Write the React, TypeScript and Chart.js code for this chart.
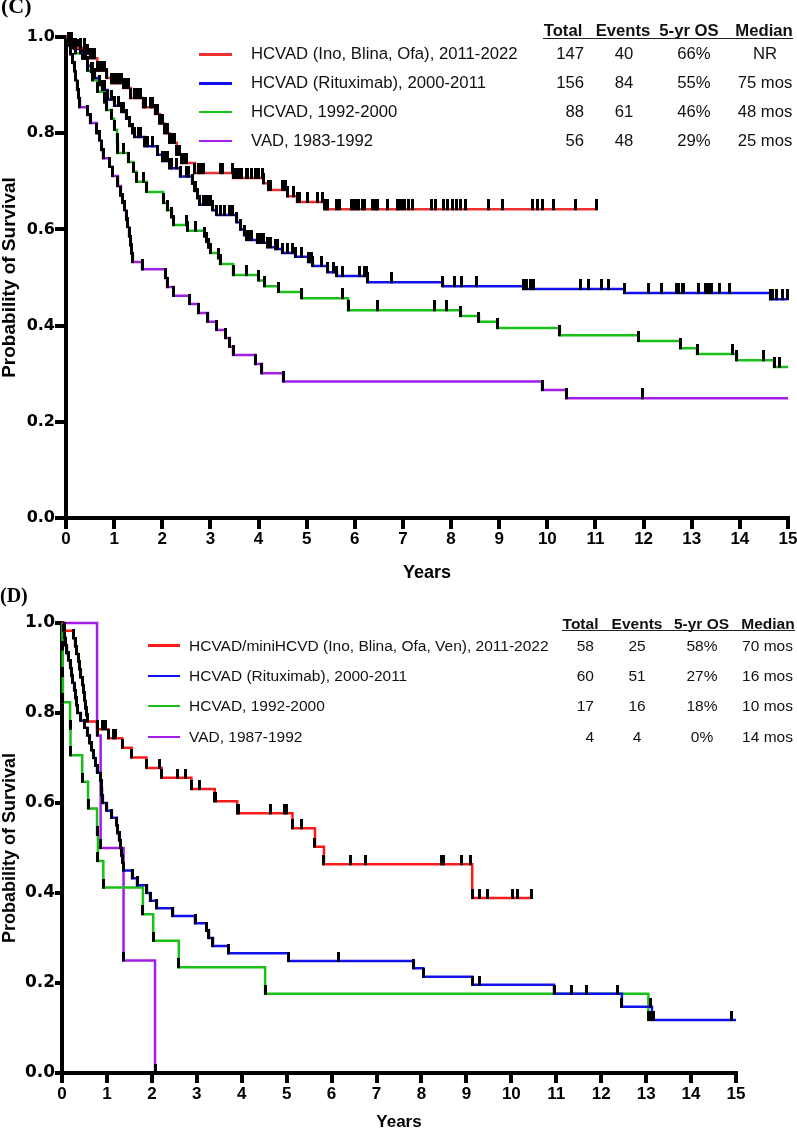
import React, { useEffect, useRef } from "react";
import { Chart, registerables } from "chart.js";
Chart.register(...registerables);

// ---------------- Panel (C) data ----------------
const cLabels = ["HCVAD (Ino, Blina, Ofa), 2011-2022", "HCVAD (Rituximab), 2000-2011", "HCVAD, 1992-2000", "VAD, 1983-1992"];
const cTotals = ["147", "156", "88", "56"];
const cEvents = ["40", "84", "61", "48"];
const cOS = ["66%", "55%", "46%", "29%"];
const cMedian = ["NR", "75 mos", "48 mos", "25 mos"];

const cRedEventT = [0.05, 0.15, 0.45, 0.5, 0.65, 0.85, 0.95, 1.2, 1.35, 1.6, 1.85, 1.95, 2.05, 2.15, 2.3, 2.4, 2.68, 3.47, 4.1, 4.2, 4.6, 4.8, 5.38];
const cRedEventS = [0.99, 0.977, 0.965, 0.956, 0.93, 0.915, 0.904, 0.894, 0.873, 0.854, 0.84, 0.82, 0.8, 0.78, 0.755, 0.738, 0.717, 0.707, 0.696, 0.682, 0.669, 0.657, 0.642];
const cRedCensorT = [0.08, 0.12, 0.2, 0.3, 0.38, 0.55, 0.6, 0.7, 0.75, 0.8, 1.0, 1.05, 1.1, 1.15, 1.25, 1.3, 1.42, 1.48, 1.55, 1.65, 1.75, 1.8, 1.9, 2.0, 2.1, 2.2, 2.25, 2.35, 2.45, 2.5, 2.75, 2.8, 2.85, 3.2, 3.25, 3.45, 3.5, 3.55, 3.58, 3.62, 3.65, 3.75, 3.78,
  3.86, 3.93, 3.99, 4.09, 4.24, 4.49, 4.55, 4.61, 4.72, 4.82, 4.86, 5.01, 5.22, 5.32, 5.42, 5.44, 5.63, 5.69, 5.94, 5.96, 6.0, 6.05, 6.07, 6.15, 6.21, 6.36, 6.42, 6.46, 6.48, 6.67, 6.88, 6.9, 6.98, 7.04, 7.11, 7.19, 7.6, 7.67, 7.85, 7.92, 8.04, 8.12, 8.19, 8.29, 8.77, 9.06, 9.7, 9.79, 9.89, 10.12, 10.58, 11.03];

const cBlueEventT = [0.05, 0.12, 0.18, 0.3, 0.38, 0.45, 0.52, 0.6, 0.7, 0.75, 0.87, 1.0, 1.16, 1.25, 1.32, 1.38, 1.43, 1.64, 1.9, 2.0, 2.16, 2.37, 2.62, 2.68, 2.73, 2.78, 3.05, 3.13, 3.55, 3.62, 3.7, 3.75, 3.97, 4.18, 4.35, 4.49, 4.76, 5.03, 5.13, 5.44, 5.63, 6.27, 7.83, 9.5, 11.6, 14.63];
const cBlueEventS = [0.99, 0.983, 0.975, 0.967, 0.955, 0.94, 0.928, 0.915, 0.9, 0.89, 0.87, 0.857, 0.844, 0.83, 0.815, 0.8, 0.792, 0.773, 0.755, 0.742, 0.727, 0.71, 0.695, 0.68, 0.665, 0.651, 0.64, 0.63, 0.615, 0.6, 0.588, 0.578, 0.572, 0.563, 0.559, 0.551, 0.543, 0.532, 0.524, 0.511, 0.503, 0.49, 0.482, 0.476, 0.468, 0.455];
const cBlueCensorT = [0.25, 0.4, 0.55, 0.8, 0.95, 1.1, 1.2, 1.5, 1.55, 1.7, 1.8, 2.05, 2.1, 2.2, 2.3, 2.5, 2.55, 2.7, 2.85, 2.9, 2.95, 3.0, 3.2, 3.3, 3.4, 3.45, 3.8, 3.85, 4.05, 4.1, 4.25, 4.4, 4.6, 4.7, 4.9, 5.07, 5.11, 5.3, 5.55, 5.75, 6.09, 6.21, 6.25, 6.77, 8.08, 8.22, 8.53, 9.57, 9.64, 9.71, 10.68, 10.85, 11.13, 11.27, 12.11, 12.38, 12.69, 12.73, 12.8, 12.82, 13.15, 13.28, 13.34, 13.38, 13.42, 13.57, 13.78, 14.67, 14.77, 14.88, 14.98];

const cGreenEventT = [0.05, 0.1, 0.2, 0.35, 0.45, 0.55, 0.65, 0.8, 0.85, 0.95, 1.0, 1.06, 1.08, 1.29, 1.4, 1.47, 1.68, 2.02, 2.1, 2.2, 2.23, 2.53, 2.88, 2.92, 2.97, 3.0, 3.16, 3.2, 3.47, 4.0, 4.12, 4.42, 4.9, 5.86, 8.19, 8.58, 8.96, 10.26, 11.9, 12.76, 13.11, 13.94, 14.71];
const cGreenEventS = [0.989, 0.977, 0.966, 0.955, 0.93, 0.91, 0.886, 0.864, 0.848, 0.83, 0.807, 0.78, 0.759, 0.74, 0.72, 0.699, 0.678, 0.655, 0.64, 0.625, 0.609, 0.597, 0.585, 0.574, 0.562, 0.551, 0.54, 0.528, 0.505, 0.494, 0.482, 0.47, 0.457, 0.432, 0.42, 0.408, 0.395, 0.38, 0.368, 0.353, 0.341, 0.328, 0.314];
const cGreenCensorT = [0.3, 1.2, 1.6, 2.5, 2.7, 3.76, 5.75, 6.47, 7.65, 7.9, 13.84, 14.5, 14.83];
const cGreenEndT = 15;

const cPurpleEventT = [0.08, 0.1, 0.14, 0.17, 0.2, 0.23, 0.26, 0.29, 0.44, 0.5, 0.64, 0.7, 0.74, 0.77, 0.91, 0.97, 1.08, 1.14, 1.18, 1.22, 1.25, 1.28, 1.31, 1.34, 1.36, 1.39, 1.58, 2.06, 2.1, 2.23, 2.57, 2.75, 2.95, 3.13, 3.31, 3.4, 3.47, 3.93, 4.07, 4.51, 9.89, 10.4];
const cPurpleEventS = [0.982, 0.964, 0.946, 0.929, 0.91, 0.89, 0.873, 0.854, 0.838, 0.821, 0.8, 0.785, 0.765, 0.748, 0.73, 0.711, 0.69, 0.67, 0.655, 0.64, 0.62, 0.605, 0.585, 0.567, 0.55, 0.532, 0.517, 0.499, 0.48, 0.462, 0.445, 0.426, 0.408, 0.391, 0.374, 0.356, 0.339, 0.32, 0.301, 0.284, 0.266, 0.249];
const cPurpleCensorT = [11.97];
const cPurpleEndT = 15;

// ---------------- Panel (D) data ----------------
const dLabels = ["HCVAD/miniHCVD (Ino, Blina, Ofa, Ven), 2011-2022", "HCVAD (Rituximab), 2000-2011", "HCVAD, 1992-2000", "VAD, 1987-1992"];
const dTotals = ["58", "60", "17", "4"];
const dEvents = ["25", "51", "16", "4"];
const dOS = ["58%", "27%", "18%", "0%"];
const dMedian = ["70 mos", "16 mos", "10 mos", "14 mos"];

const dRedEventT = [0.05, 0.25, 0.29, 0.33, 0.36, 0.39, 0.42, 0.45, 0.48, 0.5, 0.52, 0.54, 0.56, 0.78, 1.03, 1.34, 1.55, 1.88, 2.22, 2.88, 3.4, 3.9, 5.13, 5.63, 5.83, 9.13];
const dRedEventS = [0.983, 0.966, 0.948, 0.931, 0.914, 0.897, 0.879, 0.862, 0.845, 0.828, 0.81, 0.795, 0.781, 0.764, 0.744, 0.723, 0.701, 0.678, 0.656, 0.631, 0.604, 0.577, 0.544, 0.503, 0.464, 0.389];
const dRedCensorT = [0.8, 0.9, 0.97, 1.14, 1.18, 2.18, 2.56, 2.74, 3.07, 3.42, 3.92, 4.63, 4.96, 5.0, 5.34, 6.41, 6.76, 8.45, 8.5, 8.88, 9.1, 9.3, 9.48, 10.02, 10.13, 10.44];

const dBlueEventT = [0.03, 0.06, 0.08, 0.11, 0.14, 0.18, 0.21, 0.24, 0.27, 0.3, 0.32, 0.34, 0.42, 0.5, 0.56, 0.62, 0.66, 0.7, 0.74, 0.78, 0.85, 0.87, 0.89, 0.91, 1.0, 1.11, 1.22, 1.24, 1.27, 1.3, 1.32, 1.35, 1.37, 1.56, 1.67, 1.89, 1.96, 2.11, 2.47, 2.96, 3.22, 3.27, 3.36, 3.7, 5.04, 7.83, 8.04, 9.13, 10.95, 12.46, 13.13];
const dBlueEventS = [0.983, 0.967, 0.95, 0.933, 0.917, 0.9, 0.883, 0.867, 0.85, 0.833, 0.817, 0.8, 0.783, 0.767, 0.75, 0.733, 0.717, 0.7, 0.683, 0.667, 0.65, 0.633, 0.617, 0.6, 0.583, 0.567, 0.55, 0.533, 0.517, 0.5, 0.483, 0.467, 0.45, 0.433, 0.417, 0.4, 0.383, 0.366, 0.349, 0.333, 0.316, 0.3, 0.282, 0.266, 0.249, 0.233, 0.214, 0.196, 0.176, 0.147, 0.118];
const dBlueCensorT = [6.15, 9.3, 11.33, 11.68, 12.37, 13.1, 13.16, 14.9];
const dBlueEndT = 15;

const dGreenEventT = [0.01, 0.015, 0.02, 0.18, 0.19, 0.45, 0.58, 0.78, 0.8, 0.92, 1.8, 2.03, 2.6, 4.52, 13.05];
const dGreenEventS = [0.941, 0.882, 0.824, 0.765, 0.706, 0.647, 0.588, 0.529, 0.471, 0.412, 0.353, 0.294, 0.235, 0.176, 0.118];
const dGreenCensorT = [13.1];

const dPurpleEventT = [0.78, 0.86, 1.37, 2.07];
const dPurpleEventS = [0.75, 0.5, 0.25, 0.0];
const dPurpleCensorT: number[] = [];

const seriesColors = ["#ee3030", "#1010f0", "#18c018", "#a21ee6"];
const dSeriesColors = ["#ff1a1a", "#1010f0", "#18c018", "#a21ee6"];

// Build Kaplan-Meier step points: events set a new level, censors sit on the current level.
function kmPoints(eventT: number[], eventS: number[], censorT: number[], endT?: number) {
  const items = [
    ...eventT.map((t, i) => ({ t, s: eventS[i], ev: true })),
    ...censorT.map((t) => ({ t, s: 0, ev: false })),
  ].sort((a, b) => a.t - b.t || (a.ev ? -1 : 1));
  let level = 1;
  const pts: any[] = [{ x: 0, y: 1, tick: false }];
  for (const it of items) {
    if (it.ev) level = it.s;
    pts.push({ x: it.t, y: level, tick: true });
  }
  if (endT !== undefined) pts.push({ x: endT, y: level, tick: false });
  return pts;
}

function makeTick(h: number) {
  const c = document.createElement("canvas");
  c.width = 3;
  c.height = 2 * h;
  const g = c.getContext("2d")!;
  g.fillStyle = "#000";
  g.fillRect(0, 0, 3, h + 1);
  return c;
}

const SANS = "'Liberation Sans', Arial, sans-serif";

function makeConfig(p: any) {
  const tickImg = makeTick(p.tickH);
  const datasets = p.series.map((s: any) => ({
    data: s.data,
    borderColor: s.color,
    borderWidth: 2.5,
    stepped: "before",
    fill: false,
    tension: 0,
    pointStyle: tickImg,
    pointRadius: (ctx: any) => (ctx.raw && ctx.raw.tick ? 3 : 0),
    pointHoverRadius: 0,
    pointHitRadius: 0,
    pointBorderWidth: 0,
    clip: { left: 4, top: 14, right: 4, bottom: 4 },
  }));
  return {
    type: "line",
    data: { datasets },
    options: {
      animation: false,
      responsive: false,
      maintainAspectRatio: false,
      events: [],
      parsing: true,
      layout: { padding: { top: p.padTop, right: p.padRight, bottom: 0, left: 0 } },
      plugins: { legend: { display: false }, tooltip: { enabled: false }, title: { display: false } },
      scales: {
        x: {
          type: "linear",
          min: 0,
          max: 15,
          ticks: {
            stepSize: 1,
            autoSkip: false,
            maxRotation: 0,
            color: "#000",
            padding: p.xTickPad,
            font: { family: SANS, size: 17, weight: "bold", lineHeight: 1.2 },
          },
          grid: { drawOnChartArea: false, color: "#000", lineWidth: 4, tickLength: p.xTickLen, tickWidth: 4 },
          border: { display: true, width: 4, color: "#000" },
          title: {
            display: true,
            text: "Years",
            color: "#000",
            font: { family: SANS, size: p.xTitleSize, weight: "bold", lineHeight: p.xTitleLH },
            padding: { top: 0, bottom: p.xTitlePad },
          },
          afterFit: (s: any) => {
            s.height = p.xAxisH;
            s.paddingLeft = 0;
            s.paddingRight = 0;
          },
        },
        y: {
          type: "linear",
          min: 0,
          max: 1,
          ticks: {
            stepSize: 0.2,
            color: "#000",
            padding: 0,
            callback: (v: any) => Number(v).toFixed(1),
            font: { family: "'DejaVu Sans', sans-serif", size: p.yTickSize, weight: "bold", lineHeight: 1.2 },
          },
          grid: { drawOnChartArea: false, color: "#000", lineWidth: 4, tickLength: p.yTickLen, tickWidth: 4 },
          border: { display: true, width: 4, color: "#000" },
          title: {
            display: true,
            text: "Probability of Survival",
            color: "#000",
            font: { family: SANS, size: p.yTitleSize, weight: "bold", lineHeight: 1.0 },
            padding: { top: p.yTitlePad, bottom: 0 },
          },
          afterFit: (s: any) => {
            s.width = p.yAxisW;
            s.paddingTop = 0;
            s.paddingBottom = 0;
          },
        },
      },
    },
  };
}

function KMChart({ top, height, params }: any) {
  const ref = useRef<HTMLCanvasElement | null>(null);
  useEffect(() => {
    const chart = new Chart(ref.current as HTMLCanvasElement, makeConfig(params) as any);
    return () => chart.destroy();
  }, []);
  return (
    <canvas
      ref={ref}
      width={797}
      height={height}
      style={{ position: "absolute", left: 0, top, width: 797, height, display: "block" }}
    />
  );
}

function Txt({ x, y, size, align = "left", bold = false, children }: any) {
  const style: any = {
    position: "absolute",
    top: y - size * 0.5,
    fontSize: size,
    lineHeight: `${size}px`,
    fontFamily: SANS,
    fontWeight: bold ? 700 : 400,
    whiteSpace: "nowrap",
    color: "#111",
  };
  if (align === "left") style.left = x;
  else if (align === "right") style.right = 797 - x;
  else {
    style.left = x - 100;
    style.width = 200;
    style.textAlign = "center";
  }
  return <div style={style}>{children}</div>;
}

function LegendTable({ L }: any) {
  return (
    <>
      {L.headers.map((h: string, i: number) => (
        <Txt key={"h" + i} x={L.headX[i]} y={L.headY} size={L.size} align="center" bold>
          {h}
        </Txt>
      ))}
      <div
        style={{
          position: "absolute",
          left: L.ulX0,
          top: L.ulY,
          width: L.ulX1 - L.ulX0,
          height: 1.5,
          background: "#222",
        }}
      />
      {L.labels.map((lab: string, i: number) => (
        <React.Fragment key={"r" + i}>
          <div
            style={{
              position: "absolute",
              left: L.lineX0,
              top: L.rowY[i] - 1.25,
              width: L.lineX1 - L.lineX0,
              height: 2.5,
              background: L.colors[i],
            }}
          />
          <Txt x={L.textX} y={L.rowY[i]} size={L.size}>{lab}</Txt>
          <Txt x={L.totX} y={L.rowY[i]} size={L.size} align="right">{L.totals[i]}</Txt>
          <Txt x={L.evX} y={L.rowY[i]} size={L.size} align="center">{L.events[i]}</Txt>
          <Txt x={L.osX} y={L.rowY[i]} size={L.size} align="center">{L.os[i]}</Txt>
          <Txt x={L.medX} y={L.rowY[i]} size={L.size} align="center">{L.median[i]}</Txt>
        </React.Fragment>
      ))}
    </>
  );
}

const headers = ["Total", "Events", "5-yr OS", "Median"];

export default function App() {
  const cParams = {
    tickH: 10,
    padTop: 37,
    padRight: 9,
    xAxisH: 72,
    yAxisW: 66,
    xTickLen: 11,
    xTickPad: 0,
    yTickLen: 11,
    yTickSize: 16,
    xTitleSize: 18,
    xTitleLH: 1.2,
    xTitlePad: 6,
    yTitleSize: 19,
    yTitlePad: 0.5,
    series: [
      { data: kmPoints(cRedEventT, cRedEventS, cRedCensorT), color: seriesColors[0] },
      { data: kmPoints(cBlueEventT, cBlueEventS, cBlueCensorT), color: seriesColors[1] },
      { data: kmPoints(cGreenEventT, cGreenEventS, cGreenCensorT, cGreenEndT), color: seriesColors[2] },
      { data: kmPoints(cPurpleEventT, cPurpleEventS, cPurpleCensorT, cPurpleEndT), color: seriesColors[3] },
    ],
  };
  const dParams = {
    tickH: 9,
    padTop: 33,
    padRight: 61,
    xAxisH: 58,
    yAxisW: 62,
    xTickLen: 10,
    xTickPad: 1,
    yTickLen: 7,
    yTickSize: 17,
    xTitleSize: 17,
    xTitleLH: 1.0,
    xTitlePad: 0,
    yTitleSize: 18,
    yTitlePad: 1,
    series: [
      { data: kmPoints(dRedEventT, dRedEventS, dRedCensorT), color: dSeriesColors[0] },
      { data: kmPoints(dBlueEventT, dBlueEventS, dBlueCensorT, dBlueEndT), color: dSeriesColors[1] },
      { data: kmPoints(dGreenEventT, dGreenEventS, dGreenCensorT), color: dSeriesColors[2] },
      { data: kmPoints(dPurpleEventT, dPurpleEventS, dPurpleCensorT), color: dSeriesColors[3] },
    ],
  };
  const cLegend = {
    size: 16.7,
    headers,
    headX: [563, 623, 689, 764],
    headY: 31.5,
    ulX0: 543,
    ulX1: 793,
    ulY: 37.5,
    labels: cLabels,
    colors: seriesColors,
    totals: cTotals,
    events: cEvents,
    os: cOS,
    median: cMedian,
    rowY: [54.5, 83.5, 112, 141],
    lineX0: 199,
    lineX1: 232,
    textX: 251,
    totX: 584,
    evX: 624,
    osX: 694,
    medX: 765,
  };
  const dLegend = {
    size: 15.5,
    headers,
    headX: [580.5, 637, 701.5, 768],
    headY: 623.5,
    ulX0: 562,
    ulX1: 795,
    ulY: 629.5,
    labels: dLabels,
    colors: dSeriesColors,
    totals: dTotals,
    events: dEvents,
    os: dOS,
    median: dMedian,
    rowY: [645.5, 676, 706, 737],
    lineX0: 148,
    lineX1: 180,
    textX: 189,
    totX: 594,
    evX: 637,
    osX: 702,
    medX: 767.5,
  };
  return (
    <div
      style={{
        position: "absolute",
        left: 0,
        top: 0,
        width: 797,
        height: 1131,
        overflow: "hidden",
        background: "#fff",
      }}
    >
      <KMChart top={0} height={590} params={cParams} />
      <KMChart top={590} height={541} params={dParams} />
      <div
        style={{
          position: "absolute",
          left: 1,
          top: -5,
          fontFamily: "'Liberation Serif', 'Times New Roman', serif",
          fontWeight: 700,
          fontSize: 22,
          lineHeight: "22px",
          color: "#000",
        }}
      >
        (C)
      </div>
      <div
        style={{
          position: "absolute",
          left: 0,
          top: 585,
          fontFamily: "'Liberation Serif', 'Times New Roman', serif",
          fontWeight: 700,
          fontSize: 20,
          lineHeight: "20px",
          color: "#000",
        }}
      >
        (D)
      </div>
      <LegendTable L={cLegend} />
      <LegendTable L={dLegend} />
    </div>
  );
}
